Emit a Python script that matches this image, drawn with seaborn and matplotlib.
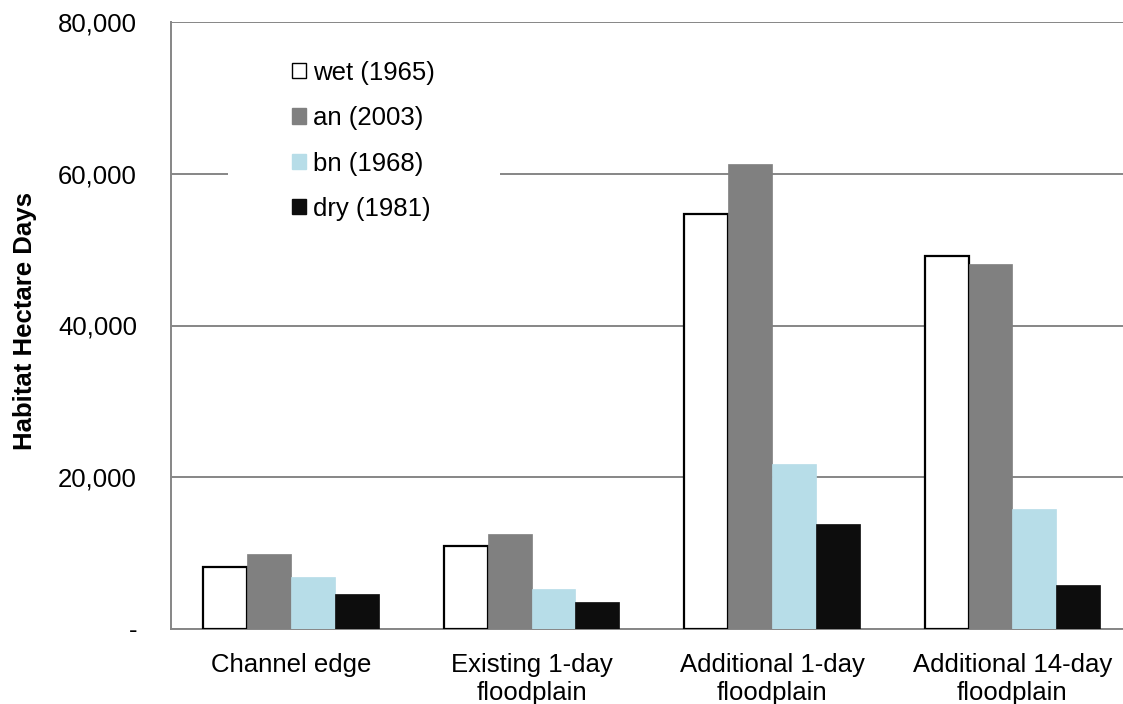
import matplotlib
matplotlib.use('Agg')
import matplotlib.pyplot as plt
import matplotlib.ticker as mticker
from matplotlib.patches import Patch, Rectangle
import seaborn as sns
import pandas as pd

# habitat hectare days
categories = ['Channel edge', 'Existing 1-day\nfloodplain',
              'Additional 1-day\nfloodplain', 'Additional 14-day\nfloodplain']
years = ['wet (1965)', 'an (2003)', 'bn (1968)', 'dry (1981)']
wet_1965 = [8200, 10900, 54700, 49100]
an_2003 = [9950, 12500, 61300, 48100]
bn_1968 = [6850, 5250, 21700, 15800]
dry_1981 = [4650, 3600, 13800, 5750]

colors = ['#ffffff', '#808080', '#b7dde8', '#0d0d0d']

rows = []
for year, vals in zip(years, [wet_1965, an_2003, bn_1968, dry_1981]):
    for cat, v in zip(categories, vals):
        rows.append({'Category': cat, 'Year': year, 'Value': v})
df = pd.DataFrame(rows)

sns.set_style('white')
plt.rcParams['font.family'] = ['Liberation Sans', 'DejaVu Sans']
plt.rcParams['text.color'] = 'black'
plt.rcParams['xtick.color'] = 'black'
plt.rcParams['ytick.color'] = 'black'
plt.rcParams['axes.labelcolor'] = 'black'

FS = 18.5

fig = plt.figure(figsize=(11.23, 7.04), dpi=100)
ax = fig.add_axes([171 / 1123, 1 - 629 / 704, 952 / 1123, 607 / 704])

sns.barplot(data=df, x='Category', y='Value', hue='Year', order=categories,
            hue_order=years, palette=colors, width=0.73, saturation=1,
            errorbar=None, ax=ax, legend=False, zorder=3)

# only the wet bars get a black outline
for i, container in enumerate(ax.containers):
    for bar in container:
        if i == 0:
            bar.set_edgecolor('black')
            bar.set_linewidth(1.6)
        else:
            bar.set_edgecolor(colors[i])
            bar.set_linewidth(0.5)

ax.set_ylim(0, 80000)
ax.set_xlim(-0.5, 3.46)
ax.set_yticks([0, 20000, 40000, 60000, 80000])
ax.yaxis.set_major_formatter(mticker.FuncFormatter(
    lambda v, p: '-' if v == 0 else f'{int(v):,}'))
ax.yaxis.grid(True, color='#868686', linewidth=1.4, zorder=0)
ax.set_axisbelow(True)

for side in ['top', 'right']:
    ax.spines[side].set_visible(False)
for side in ['left', 'bottom']:
    ax.spines[side].set_color('#868686')
    ax.spines[side].set_linewidth(1.4)

ax.set_xticks([-0.5, 0.5, 1.5, 2.5], minor=True)
ax.tick_params(axis='x', which='minor', direction='out', length=8,
               color='#868686', width=1.4)
ax.tick_params(axis='x', which='major', length=0, pad=17.5, labelsize=FS)
ax.tick_params(axis='y', direction='inout', length=13, color='#868686',
               width=1.4, pad=18, labelsize=FS)
for lbl in ax.get_xticklabels():
    lbl.set_linespacing(1.2)

ax.set_xlabel('')
ax.set_ylabel('Habitat Hectare Days', fontsize=FS, fontweight='bold')
ax.yaxis.set_label_coords(-0.141, 0.507)

# white box behind the legend, hiding the gridline like the original
ax.add_patch(Rectangle((0.060, 0.649), 0.2856, 0.321, transform=ax.transAxes,
                       facecolor='white', edgecolor='none', zorder=1))

handles = [Patch(facecolor=c, edgecolor='black' if i == 0 else c, linewidth=1)
           for i, c in enumerate(colors)]
leg = ax.legend(handles, years, loc='upper left',
                bbox_to_anchor=(0.127, 0.936), frameon=False,
                fontsize=FS, handlelength=0.55, handleheight=0.55,
                handletextpad=0.27, labelspacing=0.83,
                borderpad=0, borderaxespad=0)

fig.savefig('out.png', dpi=100)
